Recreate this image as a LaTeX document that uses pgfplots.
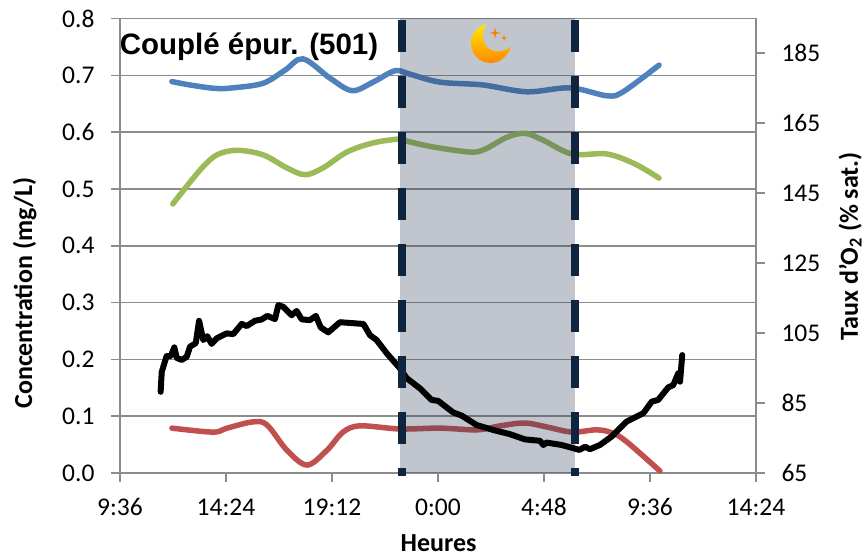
\documentclass[border=0pt]{standalone}
\usepackage{pgfplots}
\usepackage{fontspec}
\pgfplotsset{compat=1.18}
\setmainfont{Carlito}
\newfontfamily\arialb{Liberation Sans}
\definecolor{ggrid}{HTML}{8C8C8C}
\definecolor{sblue}{HTML}{4F81BD}
\definecolor{sred}{HTML}{C0504D}
\definecolor{sgreen}{HTML}{9BBB59}
\definecolor{navy}{HTML}{0F243E}
\definecolor{band}{HTML}{2D3E5C}
\pgfplotstableread{
h v
11.95 0.689
12.77 0.683
13.90 0.677
14.72 0.678
16.08 0.686
17.07 0.709
17.89 0.729
19.11 0.695
20.11 0.673
21.06 0.688
22.05 0.708
22.73 0.702
24.09 0.688
26.04 0.683
28.03 0.671
29.98 0.678
31.65 0.664
32.38 0.671
34.01 0.718
}\blueT
\pgfplotstableread{
h v
11.99 0.4735
13.22 0.533
13.99 0.560
14.90 0.568
16.08 0.560
17.16 0.537
17.98 0.525
18.79 0.537
19.88 0.565
21.06 0.581
22.28 0.588
22.60 0.584
23.77 0.574
25.45 0.565
26.13 0.570
27.12 0.591
27.94 0.598
28.75 0.586
30.07 0.5615
31.65 0.5615
32.92 0.544
34.01 0.519
}\greenT
\pgfplotstableread{
h v
11.95 0.079
13.81 0.072
14.45 0.079
15.62 0.090
16.26 0.0845
17.16 0.040
18.07 0.014
18.97 0.040
19.70 0.072
20.47 0.083
22.28 0.0775
24.09 0.079
25.77 0.076
26.81 0.083
27.94 0.088
28.93 0.081
30.07 0.072
31.20 0.076
31.92 0.070
32.56 0.0545
34.05 0.0035
}\redT
\pgfplotstableread{
h s
11.44 88.2
11.49 93.9
11.71 98.4
11.90 98.4
12.06 100.9
12.17 97.9
12.39 97.3
12.62 98.2
12.77 101.1
13.03 102.1
13.18 108.5
13.37 103.0
13.55 104.1
13.75 101.9
13.98 103.5
14.43 104.9
14.73 104.7
15.11 107.6
15.34 107.0
15.71 108.5
16.02 108.9
16.27 109.9
16.62 109.0
16.77 113.0
16.99 112.5
17.37 110.1
17.60 111.3
17.83 108.9
18.20 108.7
18.47 109.9
18.69 106.6
19.03 105.2
19.56 108.1
20.62 107.6
20.92 104.4
21.22 103.0
21.68 99.2
22.28 94.9
22.58 92.1
23.18 89.2
23.71 85.9
24.01 85.6
24.69 82.3
25.07 81.4
25.75 78.7
26.50 77.3
27.26 76.1
27.94 74.6
28.62 74.2
28.77 73.0
28.92 73.7
29.60 73.0
30.13 72.1
30.40 71.6
30.66 72.5
30.88 71.8
31.33 73.0
31.86 75.4
32.54 79.7
33.30 82.1
33.68 85.4
33.97 85.9
34.43 89.5
34.65 90.1
34.88 93.5
34.96 91.1
35.06 98.7
}\blackT
\begin{document}
\begin{tikzpicture}[x=1pt,y=-1pt]
\path[use as bounding box] (0,0) rectangle (865,559);
\begin{axis}[
  at={(120pt,-473pt)}, anchor=south west, scale only axis, width=636pt, height=454.5pt,
  xmin=9.6, xmax=38.4, ymin=0, ymax=0.8,
  axis y line*=left, axis x line*=bottom,
  axis line style={ggrid, line width=1.5pt, -},
  xtick={9.6,14.4,19.2,24,28.8,33.6,38.4},
  xticklabels={9:36,14:24,19:12,0:00,4:48,9:36,14:24},
  ytick={0,0.1,0.2,0.3,0.4,0.5,0.6,0.7,0.8},
  yticklabel style={xshift=-13pt,/pgf/number format/fixed,/pgf/number format/fixed zerofill,/pgf/number format/precision=1,/pgf/number format/assume math mode=true},
  xticklabel style={yshift=-13pt},
  ymajorgrids, grid style={ggrid, line width=1.5pt},
  tick style={ggrid, line width=1.5pt},
  tick align=outside, major tick length=9pt,
  tick label style={font=\fontsize{25.5}{27}\selectfont, text=black},
  xlabel={\textbf{Heures}}, ylabel={\textbf{Concentration (mg/L)}},
  label style={font=\fontsize{26}{28}\selectfont},
  x label style={at={(axis description cs:0.501,-0.155)},anchor=center},
  y label style={at={(axis description cs:-0.15,0.396)},anchor=center},
  clip=false,
]
\addplot[sblue, line width=5.5pt, smooth, tension=0.55, line cap=round] table[x=h,y=v] {\blueT};
\addplot[sgreen, line width=5.5pt, smooth, tension=0.55, line cap=round] table[x=h,y=v] {\greenT};
\addplot[sred, line width=5.5pt, smooth, tension=0.55, line cap=round] table[x=h,y=v] {\redT};
\end{axis}
\begin{axis}[
  at={(120pt,-473pt)}, anchor=south west, scale only axis, width=636pt, height=454.5pt,
  xmin=9.6, xmax=38.4, ymin=65, ymax=194.9,
  axis y line*=right, axis x line=none,
  axis line style={ggrid, line width=1.5pt, -},
  ytick={65,85,105,125,145,165,185},
  yticklabel style={xshift=13pt,/pgf/number format/assume math mode=true, /pgf/number format/set thousands separator={}},
  tick style={ggrid, line width=1.5pt},
  tick align=outside, major tick length=9pt,
  tick label style={font=\fontsize{25.5}{27}\selectfont, text=black},
  ylabel={\textbf{Taux d'O\textsubscript{2} (\% sat.)}},
  label style={font=\fontsize{26}{28}\selectfont},
  y label style={at={(axis description cs:1.148,0.499)},anchor=center},
  clip=false,
]
\addplot[draw=none, fill=band, fill opacity=0.3, forget plot] coordinates {(22.28,65)(30.20,65)(30.20,194.9)(22.28,194.9)} -- cycle;
\addplot[black, line width=6pt, line join=round, line cap=round] table[x=h,y=s] {\blackT};
\addplot[navy, line width=8pt, dash pattern=on 32pt off 24pt, forget plot] coordinates {(22.37,194.4)(22.37,64.1)};
\addplot[navy, line width=8pt, dash pattern=on 32pt off 24pt, forget plot] coordinates {(30.20,194.4)(30.20,64.1)};
\end{axis}
\node[font=\arialb\bfseries\fontsize{29.5}{31}\selectfont, anchor=center] at (249,47) {Couplé épur. (501)};
\shade[top color=yellow!85!orange, bottom color=orange!90!red!85!yellow, shading angle=0]
  (487,23.5) .. controls (477,27) and (471,34) .. (471,43)
  .. controls (471,55) and (480,63) .. (491,63)
  .. controls (500,63) and (508,56) .. (511,47)
  .. controls (505,51) and (497,53) .. (491,50)
  .. controls (482,45) and (480,32) .. (487,23.5) -- cycle;
\fill[orange] (495,27) -- (496,32) -- (501,33) -- (496,34) -- (495,39) -- (494,34) -- (489,33) -- (494,32) -- cycle;
\fill[orange] (504,34.5) -- (504.7,37.3) -- (507.5,38) -- (504.7,38.7) -- (504,41.5) -- (503.3,38.7) -- (500.5,38) -- (503.3,37.3) -- cycle;
\end{tikzpicture}
\end{document}
